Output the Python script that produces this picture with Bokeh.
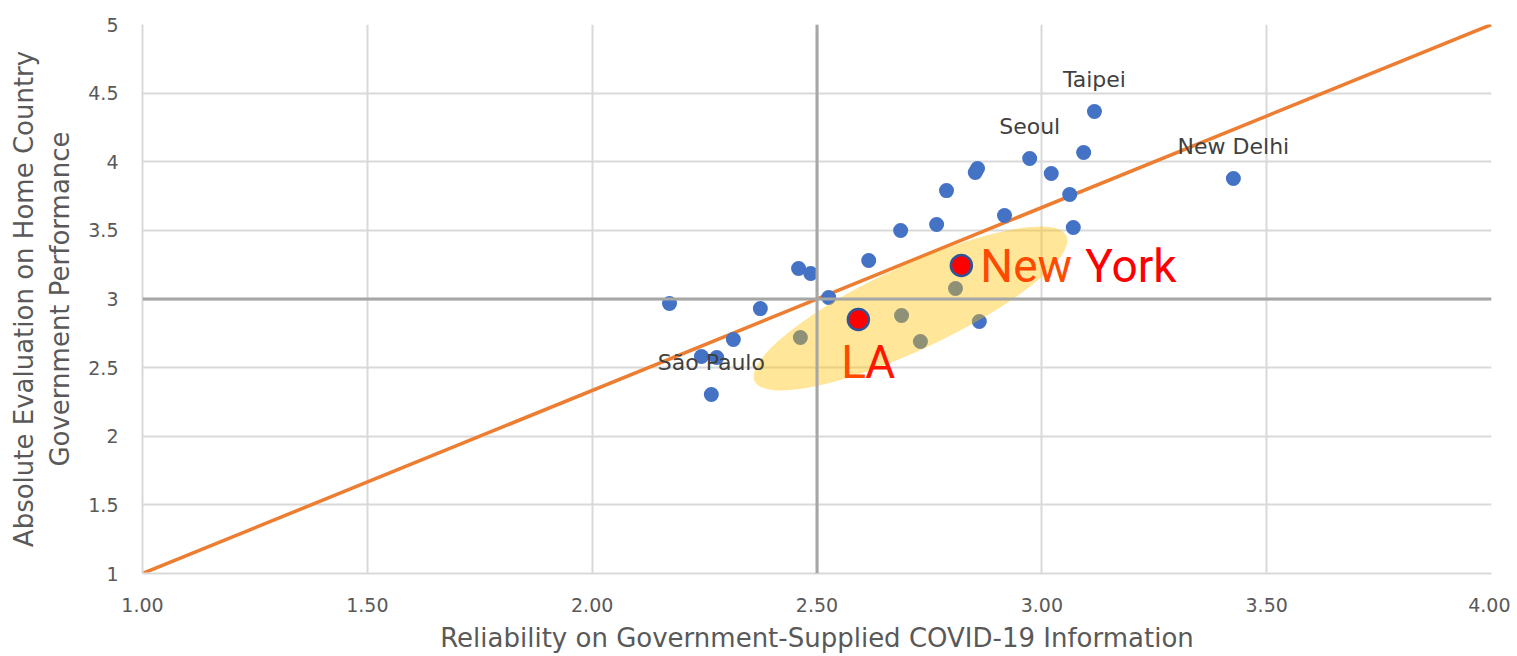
import math
from bokeh.plotting import figure
from bokeh.models import Range1d, FixedTicker, NumeralTickFormatter, Span, Label
from bokeh.embed import file_html
from bokeh.resources import INLINE

# ---- data ----
blue_x = [2.172, 2.374, 2.314, 2.243, 2.277, 2.265, 2.459, 2.486, 2.615, 2.686, 2.766,
          2.788, 2.852, 2.857, 2.917, 2.973, 3.021, 3.093, 3.117, 3.062, 3.070, 3.426,
          2.526, 2.463, 2.688, 2.730, 2.808, 2.861]
blue_y = [2.967, 2.930, 2.705, 2.581, 2.574, 2.304, 3.222, 3.186, 3.280, 3.499, 3.543,
          3.790, 3.922, 3.951, 3.608, 4.024, 3.914, 4.067, 4.366, 3.761, 3.521, 3.878,
          3.011, 2.720, 2.880, 2.690, 3.076, 2.836]

label_names = ["Taipei", "Seoul", "New Delhi", "São Paulo"]
label_x = [3.117, 2.973, 3.426, 2.265]
label_y = [4.366, 4.024, 3.878, 2.304]

us_names = ["LA", "New York"]
us_x = [2.592, 2.821]
us_y = [2.851, 3.244]

line_x = [1.0, 4.0]
line_y = [1.0, 5.0]

ell_x, ell_y = 2.708, 2.931
ell_w, ell_h, ell_angle_deg = 0.765, 0.612, 25

x_ticks = [1.0, 1.5, 2.0, 2.5, 3.0, 3.5, 4.0]
y_ticks = [1, 1.5, 2, 2.5, 3, 3.5, 4, 4.5, 5]
cross_x, cross_y = 2.5, 3.0

FONT = "DejaVu Sans"
BIG = "Roboto"

p = figure(width=1510, height=656, output_backend="svg", toolbar_location=None,
           x_range=Range1d(1, 4), y_range=Range1d(1, 5),
           min_border_left=142, min_border_right=19, min_border_top=24, min_border_bottom=83)
p.outline_line_color = None
p.background_fill_color = "white"

for ax in (p.xaxis[0], p.yaxis[0]):
    ax.axis_line_color = "#d9d9d9"
    ax.axis_line_width = 2
    ax.major_tick_line_color = None
    ax.minor_tick_line_color = None
    ax.major_label_text_font = FONT
    ax.major_label_text_font_size = "19px"
    ax.major_label_text_color = "#595959"
    ax.axis_label_text_font = FONT
    ax.axis_label_text_font_size = "26px"
    ax.axis_label_text_color = "#595959"
    ax.axis_label_text_font_style = "normal"

p.xaxis.ticker = FixedTicker(ticks=x_ticks)
p.yaxis.ticker = FixedTicker(ticks=y_ticks)
p.xaxis.formatter = NumeralTickFormatter(format="0.00")
p.yaxis.formatter = NumeralTickFormatter(format="0.[0]")
p.xaxis.major_label_standoff = 18
p.yaxis.major_label_standoff = 18
p.xaxis.axis_label = "Reliability on Government-Supplied COVID-19 Information"
p.yaxis.axis_label = "Absolute Evaluation on Home Country\nGovernment Performance"
p.xaxis.axis_label_standoff = 8
p.yaxis.axis_label_standoff = 10

p.xgrid.grid_line_color = "#d9d9d9"
p.ygrid.grid_line_color = "#d9d9d9"
p.xgrid.grid_line_width = 2
p.ygrid.grid_line_width = 2
p.xgrid.ticker = FixedTicker(ticks=x_ticks)
p.ygrid.ticker = FixedTicker(ticks=y_ticks)

p.add_layout(Span(location=cross_x, dimension="height", line_color="#a6a6a6", line_width=3))
p.add_layout(Span(location=cross_y, dimension="width", line_color="#a6a6a6", line_width=3))

p.line(line_x, line_y, line_color="#ED7D31", line_width=3.5)

p.scatter(blue_x, blue_y, size=15, fill_color="#4472C4", line_color=None)

p.ellipse(x=[ell_x], y=[ell_y], width=[ell_w], height=[ell_h],
          angle=[math.radians(ell_angle_deg)],
          fill_color="#FFC000", fill_alpha=0.4, line_color=None)

p.scatter(us_x, us_y, size=21, fill_color="#FF0000", line_color="#2F5597", line_width=2.5)

for n, lx, ly in zip(label_names, label_x, label_y):
    p.add_layout(Label(x=lx, y=ly, text=n, text_font=FONT, text_font_size="22px",
                       text_color="#404040", text_align="center", text_baseline="middle",
                       y_offset=32))

# "New York" (orange -> red)
ny_first, ny_second = us_names[1].split(" ")
p.add_layout(Label(x=us_x[1], y=us_y[1], text=ny_first, text_font=BIG,
                   text_font_size="46px", text_color="#FF4A00", text_align="left",
                   text_baseline="alphabetic", x_offset=19, y_offset=0))
p.add_layout(Label(x=us_x[1], y=us_y[1], text=ny_second, text_font=BIG,
                   text_font_size="46px", text_color="#FF0000", text_align="left",
                   text_baseline="alphabetic", x_offset=124, y_offset=0))
# "LA"
p.add_layout(Label(x=us_x[0], y=us_y[0], text=us_names[0][0], text_font=BIG,
                   text_font_size="46px", text_color="#FF4A00", text_align="left",
                   text_baseline="alphabetic", x_offset=-17, y_offset=-43))
p.add_layout(Label(x=us_x[0], y=us_y[0], text=us_names[0][1], text_font=BIG,
                   text_font_size="46px", text_color="#FF1500", text_align="left",
                   text_baseline="alphabetic", x_offset=7, y_offset=-43))

open("out.html", "w").write(file_html(p, INLINE))
